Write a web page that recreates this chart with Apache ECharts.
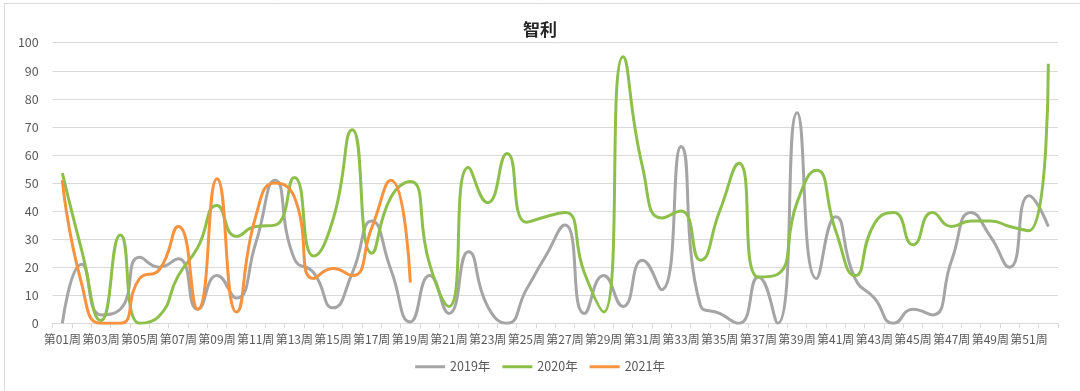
<!DOCTYPE html>
<html>
<head>
<meta charset="utf-8">
<script src="https://cdn.jsdelivr.net/npm/echarts@6/dist/echarts.min.js"></script>
<style>
html,body{margin:0;padding:0;background:#fff;}
#c{width:1080px;height:391px;}
</style>
</head>
<body>
<div id="c"></div>
<script>
const categories = [];
for (let i = 1; i <= 52; i++) categories.push('第' + (i < 10 ? '0' + i : '' + i) + '周');

const yTicks = [0,10,20,30,40,50,60,70,80,90,100];

const values2019 = [0,21,3,5,23.5,20,23,5,17,9,28.5,51,23,18,5.5,18,36.5,19,0.5,17,3.5,25.5,6,0,12,24,35,3.5,17,6,22.5,12,63,6.5,3.5,0,16.5,0,75,16,38,16,9,0,5,3,22.5,39.5,31,20,45.5,34.5];
const values2020 = [53.5,26,1,31.5,0,2.5,17,27,42,31,34.5,35,52,24,37,69,25,45,50.5,21,6,55.5,43,60.5,36,38,39.5,18,4,95,56,37.5,40,22.5,40,57,16.5,17.5,43,54.5,33,17,35.5,39.5,28,39.5,34.5,36.5,36.5,34.5,33,92.5];
const values2021 = [51,14,0,0,16,19,34.5,5,51.5,4,38,50,45,16,19.5,17,34,51,14.5];

const seriesNames = ['2019年','2020年','2021年'];
const colors = ['#A5A5A5','#8DBF4B','#F7923F'];

const chart = echarts.init(document.getElementById('c'), null, {renderer:'canvas'});
const font = '"Noto Sans CJK SC", "Noto Sans", sans-serif';

function mk(name, data, color){
  return {
    name: name, type: 'line', data: data, smooth: 0.55,
    showSymbol: false, symbol: 'none',
    lineStyle: {color: color, width: 3},
    itemStyle: {color: color},
    clip: true,
    animation: false
  };
}

chart.setOption({
  animation: false,
  backgroundColor: '#fff',
  textStyle: {fontFamily: font},
  title: {
    text: '智利', left: 'center', top: 16,
    textStyle: {fontSize: 17, fontWeight: 'bold', color: '#262626', fontFamily: font}
  },
  legend: {
    bottom: 13, left: 'center',
    icon: 'rect', itemWidth: 30, itemHeight: 3, itemGap: 12,
    textStyle: {fontSize: 12.5, color: '#595959', fontFamily: font},
    data: seriesNames
  },
  grid: {left: 52.7, right: 22, top: 42.7, bottom: 67.7, containLabel: false},
  xAxis: {
    type: 'category', data: categories, boundaryGap: true,
    axisLine: {lineStyle: {color: '#d9d9d9', width: 1}},
    axisTick: {show: true, interval: 0, length: 5, lineStyle: {color: '#d9d9d9'}},
    axisLabel: {interval: 1, fontSize: 12, color: '#595959', margin: 10, fontFamily: font,
                hideOverlap: false, showMinLabel: true}
  },
  yAxis: {
    type: 'value', min: yTicks[0], max: yTicks[yTicks.length-1], interval: 10,
    axisLine: {show: false}, axisTick: {show: false},
    axisLabel: {fontSize: 12.5, color: '#595959', margin: 14, fontFamily: font},
    splitLine: {lineStyle: {color: '#d9d9d9', width: 1}}
  },
  graphic: [{
    type: 'rect', left: 2, top: 1, silent: true, z: -10,
    shape: {width: 1076, height: 388},
    style: {fill: 'none', stroke: '#d9d9d9', lineWidth: 1}
  }],
  series: [
    mk(seriesNames[0], values2019, colors[0]),
    mk(seriesNames[1], values2020, colors[1]),
    mk(seriesNames[2], values2021, colors[2])
  ]
});
</script>
</body>
</html>
